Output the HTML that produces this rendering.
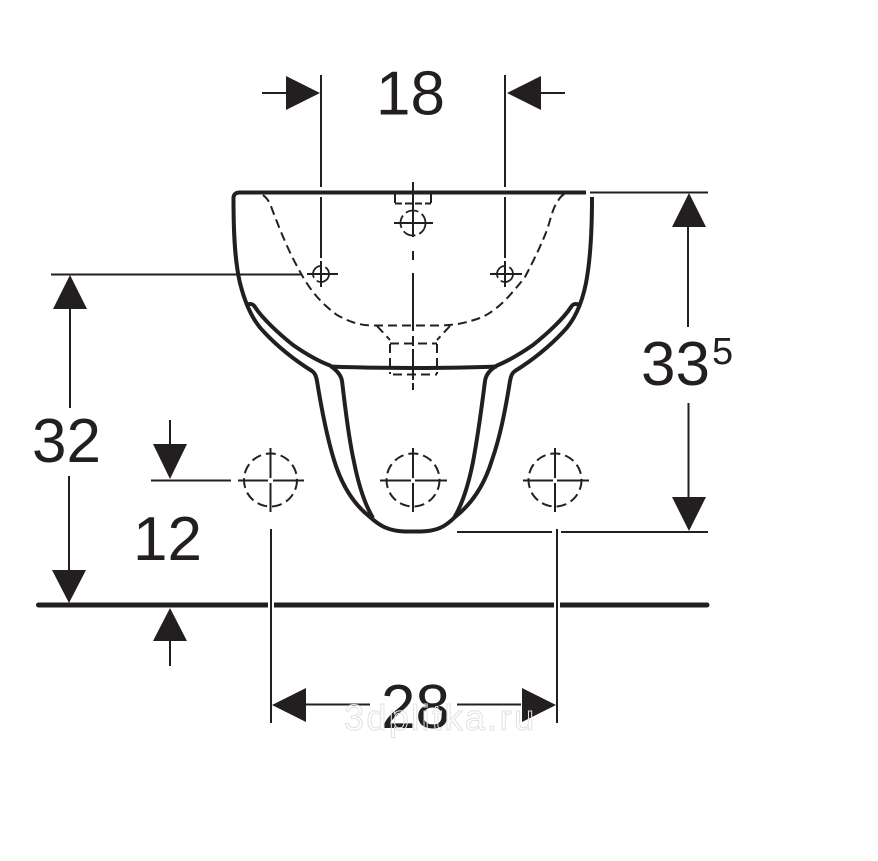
<!DOCTYPE html>
<html><head><meta charset="utf-8"><style>html,body{margin:0;padding:0;background:#fff}svg{display:block}text{font-family:"Liberation Sans",sans-serif;fill:#231f20}</style></head><body>
<svg width="878" height="861" viewBox="0 0 878 861" xmlns="http://www.w3.org/2000/svg">
<rect width="878" height="861" fill="#fff"/>
<g fill="none" stroke="#231f20" stroke-linecap="butt" stroke-linejoin="round">
<!-- basin -->
<path d="M586 192.500H240Q233 192.500 233.500 199C233.500 235 235 262 240 283C245 303 252 320 264 332C279 348 296 361 312 371C315 373 316 376 317 381C322 412 327 437 334 460C341 483 352 503 370 517C381 527 390 531 405 531.500H421C437 531 445 527 455 517C473 503 485 483 492 460C500 437 505 412 510 381C511 376 512 373 515 371C531 361 548 348 563 332C575 320 582 303 586 283C590 262 592 235 592 197" stroke-width="4"/>
<path d="M246 305C251 303 253 304 255 307C262 318 278 333 293 345C306 354 318 361 330 365.500C335 369 341 374 342 381C345 405 348 435 354 462C358 482 364 503 373 518" stroke-width="4"/>
<path d="M580 305C575 303 573 304 571 307C564 318 548 333 533 345C520 354 508 361 497 365.500C491 369 486 374 485 381C482 405 478 435 473 462C469 482 463 503 454 518" stroke-width="4"/>
<path d="M330 366.500C380 368.500 450 368.500 497 366.500" stroke-width="4"/>
<!-- dashed interior -->
<g stroke-width="2" stroke-dasharray="9 5">
<path d="M263 195C268 199 270 203 272 209C280 230 288 250 298 268C308 287 318 301 337 315C350 322 358 325 372 325.500H430C455 326 465 323 480 318C497 311 510 296 525 277C535 258 542 243 547 230C551 218 553 207 558 201C560 197 563 194 567 193"/>
<path d="M377 326L390 340"/><path d="M450 326L437 340"/>
<path d="M390 343.500H437"/><path d="M390 344V374"/><path d="M437 344V374"/><path d="M393 374.500H437"/>
<path d="M395 203.500H431" stroke-dasharray="7 3"/>
<path d="M395 194V203" stroke-dasharray="none"/><path d="M431 194V203" stroke-dasharray="none"/>
</g>
<!-- small holes -->
<g stroke-width="1.800">
<circle cx="413" cy="223" r="12.500" stroke-dasharray="13 4"/>
<circle cx="321" cy="274" r="8" stroke-dasharray="17 4"/>
<circle cx="505" cy="274" r="8" stroke-dasharray="17 4"/>
</g>
<g stroke-width="2">
<path d="M394 223H433"/><path d="M413 182V237"/><path d="M413 251V260"/><path d="M413 273V331"/><path d="M413 336V346"/><path d="M413 349V380"/><path d="M413 383V390"/>
<path d="M307 274H338"/><path d="M321 75V187"/><path d="M321 197V258"/><path d="M321 261V287"/>
<path d="M490 274H522"/><path d="M505 75V187"/><path d="M505 197V258"/><path d="M505 261V287"/>
</g>
<path d="M51 274.500H302" stroke-width="2"/>
<!-- big circles -->
<g stroke-width="2">
<circle cx="270.500" cy="480" r="26.500" stroke-dasharray="10 5"/>
<circle cx="413" cy="480" r="26.500" stroke-dasharray="10 5"/>
<circle cx="555" cy="480" r="26.500" stroke-dasharray="10 5"/>
<path d="M238 480.500H268M273 480.500H304"/><path d="M270.500 448V478M270.500 483V512"/>
<path d="M380 480.500H411M415 480.500H447"/><path d="M413 448V478M413 483V512"/>
<path d="M523 480.500H553M557 480.500H589"/><path d="M555 448V478M555 483V512"/>
</g>
<!-- dimension lines -->
<g stroke-width="2">
<path d="M262 93H286"/><path d="M540 93H565"/>
<path d="M590 192.500H708"/><path d="M688 227V327"/><path d="M688.500 403V497"/>
<path d="M457 532H552M561 532H708"/>
<path d="M70 309V408"/><path d="M69 476V570"/>
<path d="M170 420V444"/><path d="M151 480.500H231"/><path d="M170 641V666"/>
<path d="M271 529V602M271 609V723"/><path d="M557 529V602M557 609V723"/>
<path d="M305 704.500H370M457 704.500H521"/>
</g>
<path d="M38.500 605H707" stroke-width="5" stroke-linecap="round"/>
<path d="M268 605H274M554 605H560" stroke="#fff" stroke-width="6"/>
<path d="M271 600V610M557 600V610" stroke-width="2"/>
</g>
<!-- arrowheads -->
<g fill="#231f20">
<path d="M320 93L286 76V110Z"/><path d="M507 93L541 76V110Z"/>
<path d="M689 193L672 227H706Z"/><path d="M689 531L672 497H706Z"/>
<path d="M70 275L53 309H87Z"/><path d="M69 603L52 570H86Z"/>
<path d="M170 479L153 444H187Z"/><path d="M170 608L153 641H187Z"/>
<path d="M272 705L306 688V722Z"/><path d="M556 705L522 688V722Z"/>
</g>
<!-- labels -->
<text x="376" y="114.500" font-size="62">18</text>
<text x="32" y="462" font-size="62">32</text>
<text x="133" y="560" font-size="62">12</text>
<text x="641" y="385" font-size="62">33</text>
<text x="712" y="364" font-size="38">5</text>
<text x="381" y="728" font-size="62">28</text>
<text x="344" y="730" font-size="36" letter-spacing="2.400" style="fill:none;stroke:#e2e2e2;stroke-width:1">3dplitka.ru</text>
</svg>
</body></html>
